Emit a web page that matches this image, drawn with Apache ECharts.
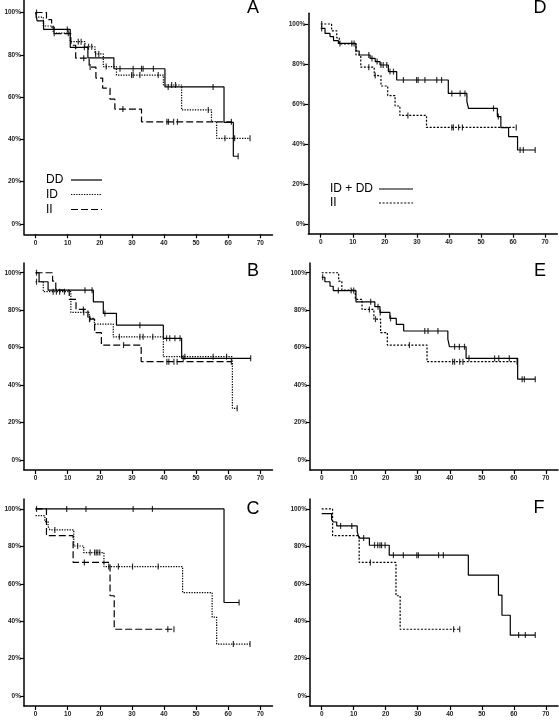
<!DOCTYPE html>
<html><head><meta charset="utf-8">
<script src="https://cdn.jsdelivr.net/npm/echarts@6/dist/echarts.min.js"></script>
<style>html,body{margin:0;padding:0;background:#fff}#c{width:559px;height:720px}</style>
</head><body><div id="c"></div>
<script>
// ---------- data (months, survival %) ----------
const xTicks = [0, 10, 20, 30, 40, 50, 60, 70];
const yTicks = [0, 20, 40, 60, 80, 100];

// Panel A / D : overall
const A_DD_t = [0, 0.5, 2.5, 10.8, 16.3, 24.4, 40.3, 58.7, 61.6, 63.1];
const A_DD_s = [100, 96, 92, 83.5, 78.5, 73.4, 64.8, 48, 32, 32];
const A_DD_c = [9.9, 15.2, 26.3, 30.4, 33.0, 33.5, 36.7, 41.3, 55.3, 63.1];
const A_ID_t = [0, 2.4, 5.5, 10.8, 15.4, 18.5, 21.1, 25.2, 39.8, 45.5, 54.8, 56.4, 66.8];
const A_ID_s = [97.8, 93.6, 90.2, 86.2, 83.8, 80.4, 74.4, 70.4, 65.7, 53.9, 48.4, 40.5, 40.5];
const A_ID_c = [5.8, 10.2, 13.3, 14.2, 16.5, 17.5, 18.7, 19.7, 22.0, 29.9, 30.4, 32.5, 38.2, 42.4, 43.6, 53.8, 59.0, 62.0, 66.8];
const A_II_t = [0, 3.4, 5.0, 5.8, 11.0, 12.5, 16.7, 18.8, 20.9, 23.2, 24.7, 33.0, 61.0];
const A_II_s = [100, 96.6, 93.1, 90, 84.5, 78.4, 74.2, 69, 64.2, 59, 54.3, 48.3, 48.3];
const A_II_c = [0.3, 15.0, 17.0, 27.2, 40.9, 41.4, 43.0, 44.2, 61.0];

const D_ALL_t = [0, 1.35, 2.9, 4.0, 5.5, 11.0, 12.0, 15.4, 17.0, 18.5, 21.1, 23.7, 39.8, 45.6, 46.1, 55.1, 56.2, 58.6, 61.4, 66.9];
const D_ALL_s = [97.8, 95.3, 93.7, 91.7, 90.3, 86.5, 84.5, 82.8, 81.2, 79.5, 76.2, 72, 65.3, 61.2, 57.8, 53.7, 48.2, 43.7, 37, 37];
const D_ALL_c = [0.3, 6.0, 9.7, 10.4, 15.0, 16.0, 17.6, 18.8, 19.5, 20.6, 21.6, 22.7, 25.8, 29.9, 30.4, 32.5, 36.2, 37.7, 40.9, 43.5, 45.0, 53.9, 55.4, 62.2, 63.2, 66.9];

// Panel B / E
const B_DD_t = [0, 1.1, 3.9, 18.0, 21.1, 25.2, 39.8, 45.5, 67.0];
const B_DD_s = [100, 95.2, 90.7, 84.5, 78.3, 72, 65, 54.3, 54.3];
const B_DD_c = [0.3, 15.4, 17.6, 21.6, 32.5, 40.8, 41.8, 43.4, 45.0, 46.0, 67.0];
const B_ID_t = [0, 2.4, 11.0, 16.7, 18.3, 24.2, 39.8, 61.3, 62.8];
const B_ID_s = [95.2, 89.9, 78.8, 75.6, 72.6, 65.8, 55.2, 27.6, 27.6];
const B_ID_c = [0.3, 5.5, 6.5, 7.5, 9.0, 15.0, 16.9, 26.1, 32.5, 33.5, 36.5, 46.5, 55.3, 59.5, 62.8];
const B_II_t = [0, 5.3, 6.3, 10.5, 12.6, 16.3, 18.4, 20.5, 32.9, 61.0];
const B_II_s = [100, 95.5, 90.7, 85.8, 80.4, 75.2, 68, 61.4, 52.5, 52.5];
const B_II_c = [14.9, 16.8, 27.4, 40.9, 41.5, 43.1, 44.1, 61.0];

const E_ALL_t = [0, 1.0, 2.6, 3.6, 10.7, 16.6, 18.2, 21.3, 23.3, 25.6, 39.4, 39.9, 45.1, 61.2, 66.7];
const E_ALL_s = [97.6, 95.2, 92.8, 90.5, 84.5, 81.9, 78.8, 75.6, 72.4, 68.9, 64.5, 60.5, 54.3, 43.2, 43.2];
const E_ALL_c = [0.3, 5.2, 9.2, 10.0, 15.3, 17.6, 18.3, 21.5, 32.2, 33.2, 36.3, 41.5, 43.0, 44.6, 46.0, 54.0, 55.3, 58.6, 62.6, 63.3, 66.7];

// Panel C / F
const C_DD_t = [0, 58.7, 63.4];
const C_DD_s = [100, 50, 50];
const C_DD_c = [0.3, 9.7, 15.7, 30.4, 36.4, 63.4];
const C_ID_t = [0, 2.9, 3.9, 4.5, 11.9, 15.0, 21.3, 45.8, 55.0, 56.4, 66.8];
const C_ID_s = [96.4, 93.2, 90.6, 88.8, 80.2, 76.7, 69.2, 55.3, 42.2, 27.8, 27.8];
const C_ID_c = [6.0, 13.1, 17.0, 18.4, 18.9, 19.4, 20.0, 22.8, 25.8, 30.2, 38.2, 61.6, 66.8];
const C_II_t = [0, 3.4, 11.7, 23.2, 24.5, 43.1];
const C_II_s = [100, 85.7, 71.4, 53.6, 35.7, 35.7];
const C_II_c = [15.2, 41.2, 43.1];

const F_ALL_t = [0, 3.1, 3.6, 4.7, 11.1, 11.7, 14.9, 21.1, 45.8, 55.2, 56.3, 58.9, 66.7];
const F_ALL_s = [97.5, 94.3, 93, 90.9, 87.7, 84.4, 80.6, 75.3, 64.6, 53.9, 43.2, 32.6, 32.6];
const F_ALL_c = [5.9, 9.4, 13.1, 16.5, 17.5, 18.2, 18.7, 19.8, 22.4, 25.5, 29.7, 30.2, 36.5, 38.0, 61.5, 63.6, 66.7];

// legend labels
const legendA = ['DD', 'ID', 'II'];
const legendD = ['ID + DD', 'II'];

// ---------- layout ----------
const FONT = 'Liberation Sans, Arial, sans-serif';
const panels = [
  {letter: 'A', grid: {left: 24, top: 0, width: 248.5, height: 234.3}, x: [-3.6, 73.8], y: [-4.9, 105.9], lx: 253, ly: 8},
  {letter: 'B', grid: {left: 24, top: 263, width: 248.5, height: 207}, x: [-3.6, 73.8], y: [-5.3, 105.2], lx: 253, ly: 271},
  {letter: 'C', grid: {left: 24, top: 499, width: 248.5, height: 207}, x: [-3.6, 73.8], y: [-5.3, 105.3], lx: 253, ly: 509},
  {letter: 'D', grid: {left: 308.3, top: 13.3, width: 249, height: 220.4}, x: [-3.87, 73.8], y: [-4.85, 105.35], lx: 540, ly: 8},
  {letter: 'E', grid: {left: 310, top: 263, width: 248, height: 207}, x: [-3.65, 73.8], y: [-5.3, 105.2], lx: 540, ly: 271},
  {letter: 'F', grid: {left: 310, top: 499, width: 248, height: 207}, x: [-3.65, 73.8], y: [-5.3, 105.3], lx: 539, ly: 508}
];

const SOLID = 'solid', DOT = [1.3, 1.3], DASH = [7, 3], DOT2 = [2, 1.6];
const curves = [
  {p: 0, name: 'DD', t: A_DD_t, s: A_DD_s, c: A_DD_c, type: SOLID},
  {p: 0, name: 'ID', t: A_ID_t, s: A_ID_s, c: A_ID_c, type: DOT},
  {p: 0, name: 'II', t: A_II_t, s: A_II_s, c: A_II_c, type: DASH},
  {p: 1, name: 'DD', t: B_DD_t, s: B_DD_s, c: B_DD_c, type: SOLID},
  {p: 1, name: 'ID', t: B_ID_t, s: B_ID_s, c: B_ID_c, type: DOT},
  {p: 1, name: 'II', t: B_II_t, s: B_II_s, c: B_II_c, type: DASH},
  {p: 2, name: 'DD', t: C_DD_t, s: C_DD_s, c: C_DD_c, type: SOLID},
  {p: 2, name: 'ID', t: C_ID_t, s: C_ID_s, c: C_ID_c, type: DOT},
  {p: 2, name: 'II', t: C_II_t, s: C_II_s, c: C_II_c, type: DASH},
  {p: 3, name: 'ID + DD', t: D_ALL_t, s: D_ALL_s, c: D_ALL_c, type: SOLID},
  {p: 3, name: 'II', t: A_II_t, s: A_II_s, c: A_II_c, type: DOT2},
  {p: 4, name: 'ID + DD', t: E_ALL_t, s: E_ALL_s, c: E_ALL_c, type: SOLID},
  {p: 4, name: 'II', t: B_II_t, s: B_II_s, c: B_II_c, type: DOT2},
  {p: 5, name: 'ID + DD', t: F_ALL_t, s: F_ALL_s, c: F_ALL_c, type: SOLID},
  {p: 5, name: 'II', t: C_II_t, s: C_II_s, c: C_II_c, type: DOT2}
];

function valueAt(t, s, x) {
  let v = s[0];
  for (let i = 0; i < t.length; i++) { if (t[i] <= x) v = s[i]; }
  return v;
}

const grids = [], xAxes = [], yAxes = [], series = [], graphics = [];
panels.forEach((pn, i) => {
  grids.push(Object.assign({containLabel: false}, pn.grid));
  xAxes.push({
    type: 'value', gridIndex: i, min: pn.x[0], max: pn.x[1],
    axisLine: {onZero: false, lineStyle: {color: '#000', width: 1.5}},
    axisTick: {show: true, length: 4, customValues: xTicks, lineStyle: {color: '#000', width: 1.2}},
    axisLabel: {customValues: xTicks, fontSize: 6.5, fontWeight: 'bold', color: '#222', margin: 5, fontFamily: FONT},
    splitLine: {show: false}
  });
  yAxes.push({
    type: 'value', gridIndex: i, min: pn.y[0], max: pn.y[1],
    axisLine: {onZero: false, lineStyle: {color: '#000', width: 1.5}},
    axisTick: {show: true, length: 4, customValues: yTicks, lineStyle: {color: '#000', width: 1.2}},
    axisLabel: {customValues: yTicks, fontSize: 6.5, fontWeight: 'bold', color: '#222', margin: 3, fontFamily: FONT, formatter: v => v + '%'},
    splitLine: {show: false}
  });
  graphics.push({type: 'text', x: pn.lx, y: pn.ly, silent: true,
    style: {text: pn.letter, font: '18px ' + FONT, fill: '#000', align: 'center', verticalAlign: 'middle'}});
});

// legends (decorative keys)
const legAStyles = [SOLID, DOT, DASH];
const legAY = [180, 194.5, 209.5];
legendA.forEach((txt, i) => {
  graphics.push({type: 'text', x: 46, y: legAY[i], silent: true,
    style: {text: txt, font: '12px ' + FONT, fill: '#000', align: 'left', verticalAlign: 'middle'}});
  graphics.push({type: 'line', silent: true, shape: {x1: 71, y1: legAY[i], x2: 102, y2: legAY[i]},
    style: {stroke: '#000', lineWidth: 1.2, lineDash: legAStyles[i] === SOLID ? null : legAStyles[i]}});
});
const legDStyles = [SOLID, DOT2];
const legDY = [189, 203];
legendD.forEach((txt, i) => {
  graphics.push({type: 'text', x: 330, y: legDY[i], silent: true,
    style: {text: txt, font: '12px ' + FONT, fill: '#000', align: 'left', verticalAlign: 'middle'}});
  graphics.push({type: 'line', silent: true, shape: {x1: 379, y1: legDY[i], x2: 413, y2: legDY[i]},
    style: {stroke: '#000', lineWidth: 1.2, lineDash: legDStyles[i] === SOLID ? null : legDStyles[i]}});
});

curves.forEach((cv, k) => {
  series.push({
    type: 'line', name: cv.name, xAxisIndex: cv.p, yAxisIndex: cv.p,
    step: 'end', symbol: 'none', silent: true,
    lineStyle: {color: '#000', width: 1.2, type: cv.type},
    data: cv.t.map((t, i) => [t, cv.s[i]])
  });
  series.push({
    type: 'scatter', name: 'cens' + k, xAxisIndex: cv.p, yAxisIndex: cv.p, silent: true,
    symbol: 'rect', symbolSize: [1.2, 6],
    itemStyle: {color: '#000'},
    data: cv.c.map(t => [t, valueAt(cv.t, cv.s, t)])
  });
});

const option = {
  animation: false,
  backgroundColor: '#fff',
  grid: grids, xAxis: xAxes, yAxis: yAxes, series: series,
  graphic: graphics
};
const chart = echarts.init(document.getElementById('c'), null, {renderer: 'canvas'});
chart.setOption(option);
</script></body></html>
